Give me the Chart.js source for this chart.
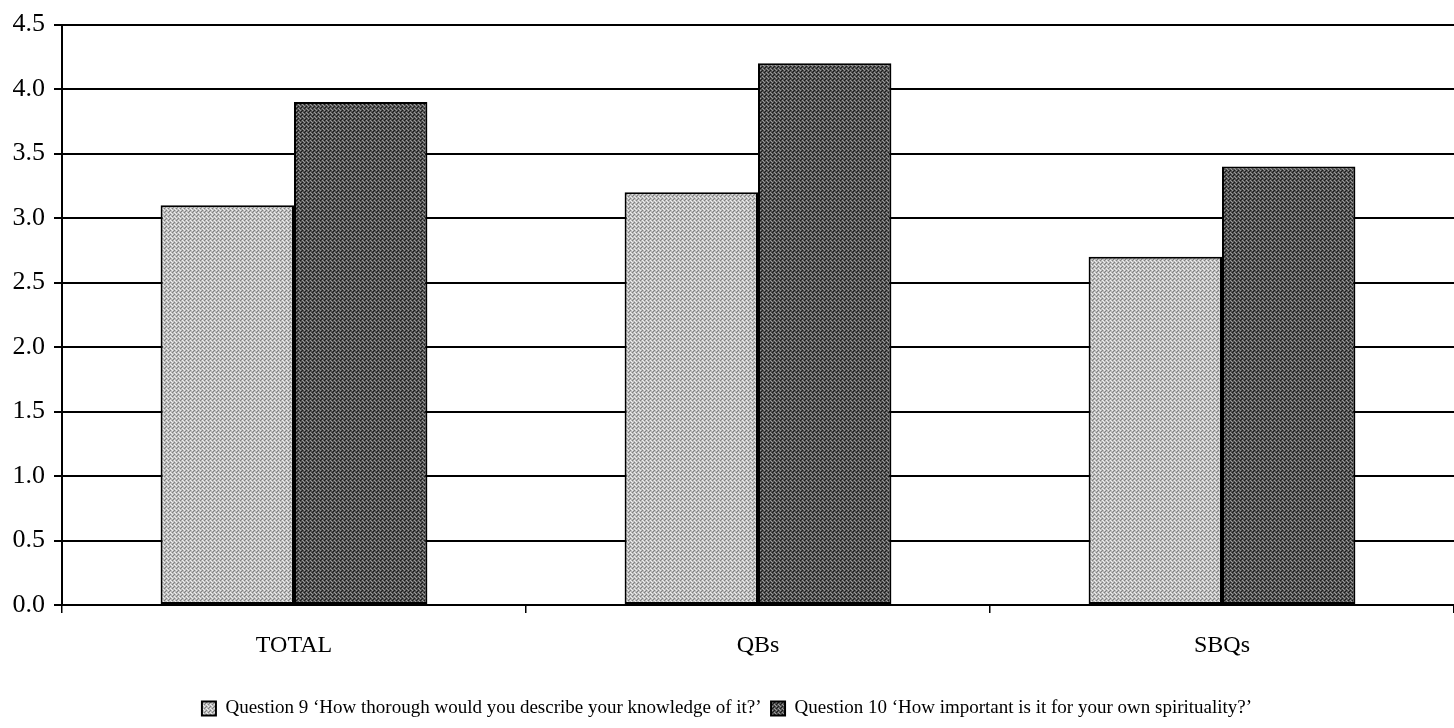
<!DOCTYPE html>
<html><head><meta charset="utf-8">
<script src="https://cdn.jsdelivr.net/npm/chart.js@4.4.0/dist/chart.umd.min.js"></script>
<style>html,body{margin:0;padding:0;background:#fff;}#wrap{width:1454px;height:728px;}</style>
</head><body><div id="wrap"><canvas id="c" width="1454" height="728"></canvas></div>
<script>
const categories = ["TOTAL", "QBs", "SBQs"];
const q9Values = [3.1, 3.2, 2.7];
const q10Values = [3.9, 4.2, 3.4];
const seriesLabels = ["Question 9 \u2018How thorough would you describe your knowledge of it?\u2019", "Question 10 \u2018How important is it for your own spirituality?\u2019"];
const yTicks = [0, 0.5, 1, 1.5, 2, 2.5, 3, 3.5, 4, 4.5];

function makePattern(base, dot1, dot2) {
  const p = document.createElement('canvas');
  p.width = 4; p.height = 4;
  const g = p.getContext('2d');
  g.fillStyle = base; g.fillRect(0, 0, 4, 4);
  g.fillStyle = dot1;
  g.fillRect(0, 0, 1, 1); g.fillRect(2, 2, 1, 1); g.fillRect(1, 3, 1, 1);
  g.fillStyle = dot2;
  g.fillRect(2, 0, 1, 1); g.fillRect(0, 2, 1, 1); g.fillRect(3, 1, 1, 1);
  return document.getElementById('c').getContext('2d').createPattern(p, 'repeat');
}
const lightPat = makePattern('#bdbdbd', '#808080', '#eeeeee');
const darkPat = makePattern('#525252', '#1a1a1a', '#9a9a9a');

const font = "'Liberation Serif', 'DejaVu Serif', serif";
new Chart(document.getElementById('c'), {
  type: 'bar',
  data: {
    labels: categories,
    datasets: [
      { label: seriesLabels[0], data: q9Values, backgroundColor: lightPat, borderColor: '#000', borderWidth: 2, borderSkipped: false },
      { label: seriesLabels[1], data: q10Values, backgroundColor: darkPat, borderColor: '#000', borderWidth: 2, borderSkipped: false }
    ]
  },
  options: {
    responsive: false,
    animation: false,
    devicePixelRatio: 1,
    layout: { padding: { top: 19, right: 0, left: 0, bottom: 0 } },
    datasets: { bar: { categoryPercentage: 0.575, barPercentage: 1.0 } },
    plugins: {
      legend: {
        position: 'bottom',
        labels: {
          font: { family: font, size: 19, lineHeight: 0.9 }, color: '#000', boxWidth: 14, boxHeight: 14, padding: 0, useBorderRadius: false,
          generateLabels: chart => {
            const items = Chart.defaults.plugins.legend.labels.generateLabels(chart);
            items.forEach((it, i) => { if (i < items.length - 1) it.text = it.text + '  '; });
            return items;
          }
        }
      },
      tooltip: { enabled: false }
    },
    scales: {
      x: {
        grid: { display: true, offset: true, drawOnChartArea: false, drawTicks: true, tickLength: 8, color: '#000', lineWidth: 1.5 },
        border: { display: true, color: '#000', width: 2 },
        ticks: { font: { family: font, size: 24 }, color: '#000', padding: 18 },
        afterFit: s => { s.height = 94; }
      },
      y: {
        min: 0, max: 4.5,
        afterBuildTicks: s => { s.ticks = yTicks.map(v => ({ value: v })); },
        grid: { color: '#000', lineWidth: 2, drawTicks: true, tickLength: 8 },
        border: { display: true, color: '#000', width: 2 },
        ticks: { font: { family: font, size: 26 }, color: '#000', padding: 9, callback: v => Number(v).toFixed(1) },
        afterFit: s => { s.width = 62; }
      }
    }
  }
});
</script></body></html>
